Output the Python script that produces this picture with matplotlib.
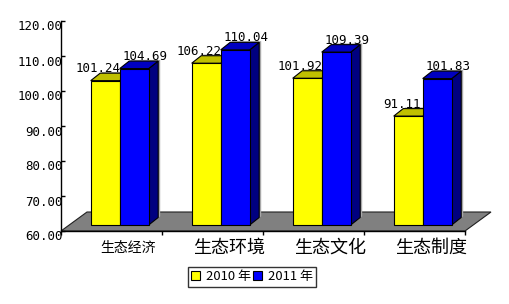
import matplotlib
matplotlib.use("Agg")
import matplotlib.pyplot as plt
from matplotlib.patches import Polygon, Patch
import numpy as np

categories = ["生态经济", "生态环境", "生态文化", "生态制度"]
series_names = ["2010 年", "2011 年"]
values_2010 = [101.24, 106.22, 101.92, 91.11]
values_2011 = [104.69, 110.04, 109.39, 101.83]
yticks = [60, 70, 80, 90, 100, 110, 120]
ytick_labels = ["60.00", "70.00", "80.00", "90.00", "100.00", "110.00", "120.00"]

W, H = 509, 304
fig = plt.figure(figsize=(W / 100, H / 100), dpi=100)
ax = fig.add_axes([61 / W, (H - 231) / H, (465 - 61) / W, (231 - 21) / H])
ax.set_xlim(-0.5, 3.5)
ax.set_ylim(60, 120)
ax.set_facecolor("none")

# data units per pixel
ux = 4.0 / 404
uy = 60.0 / 210

# 3D geometry (pixels)
bar_sx, bar_sy = 8.2, 6.0      # bar set back from front edge
bdx, bdy = 9.5, 7.5            # bar depth
fdx, fdy = 26.0, 19.0          # floor depth
w = 29.0 / 101

lw = 0.8
# floor
floor = Polygon([(-0.5, 60), (3.5, 60), (3.5 + fdx * ux, 60 + fdy * uy),
                 (-0.5 + fdx * ux, 60 + fdy * uy)], closed=True,
                facecolor="#808080", edgecolor="#202020", lw=lw, clip_on=False, zorder=1)
ax.add_patch(floor)

colors = [("#FFFF00", "#C0C000", "#808000"), ("#0000FF", "#0000C0", "#000080")]
series = [values_2010, values_2011]


def bar3d(xc, v, cols, z):
    x0 = xc - w / 2 + bar_sx * ux
    x1 = xc + w / 2 + bar_sx * ux
    b = 60 + bar_sy * uy
    t = v + bar_sy * uy
    ddx, ddy = bdx * ux, bdy * uy
    # shadow
    sh = [(x0, b), (x1, b), (x1 + ddx, b + ddy), (x1 + ddx, t + ddy), (x0 + ddx, t + ddy), (x0, t)]
    sh = [(p[0] + 2 * ux, p[1] + 1.2 * uy) for p in sh]
    ax.add_patch(Polygon(sh, closed=True, facecolor="#A8A8A8", edgecolor="none", clip_on=False, zorder=z))
    side = [(x1, b), (x1 + ddx, b + ddy), (x1 + ddx, t + ddy), (x1, t)]
    top = [(x0, t), (x1, t), (x1 + ddx, t + ddy), (x0 + ddx, t + ddy)]
    front = [(x0, b), (x1, b), (x1, t), (x0, t)]
    for poly, c in ((side, cols[2]), (top, cols[1]), (front, cols[0])):
        ax.add_patch(Polygon(poly, closed=True, facecolor=c, edgecolor="black", lw=lw,
                             clip_on=False, zorder=z + 0.1, joinstyle="miter"))


x = np.arange(len(categories))
for i in range(len(categories)):
    bar3d(x[i] - w / 2, values_2010[i], colors[0], 2 + i)
    bar3d(x[i] + w / 2, values_2011[i], colors[1], 2.5 + i)

num_font = dict(family="DejaVu Sans Mono", fontsize=9)
PT = 0.72
for i in range(len(categories)):
    for k, vals in enumerate(series):
        xc = x[i] + (k - 0.5) * w
        off = -6.7 if k == 0 else 10.5
        ax.annotate(f"{vals[i]:.2f}", (xc, vals[i]),
                    xytext=((bar_sx + off) * PT, (bar_sy + 12) * PT), textcoords="offset points",
                    ha="center", va="center", zorder=20, annotation_clip=False, **num_font)

# axes & ticks
for s in ("top", "right"):
    ax.spines[s].set_visible(False)
ax.spines["left"].set_linewidth(1.0)
ax.spines["bottom"].set_linewidth(1.0)
ax.spines["left"].set_zorder(15)
ax.set_yticks(yticks)
ax.set_yticklabels([])
ax.tick_params(axis="y", direction="in", length=3, width=1)
ax.set_xticks(np.arange(-0.5, 4.0, 1.0))
ax.set_xticklabels([])
ax.tick_params(axis="x", direction="out", length=3, width=1)

for yv, lab in zip(yticks, ytick_labels):
    ax.annotate(lab, (-0.5, yv), xytext=(2 * PT, -6 * PT), textcoords="offset points",
                ha="right", va="center", zorder=1, annotation_clip=False, **num_font)

cjk = ["Noto Sans CJK SC", "DejaVu Sans"]
for i, c in enumerate(categories):
    fs = 10 if i == 0 else 13
    ax.annotate(c, (x[i], 60), xytext=(17 * PT, -17 * PT), textcoords="offset points",
                ha="center", va="center", family=cjk, fontsize=fs, annotation_clip=False)

handles = [Patch(facecolor=colors[0][0], edgecolor="black", lw=0.8),
           Patch(facecolor=colors[1][0], edgecolor="black", lw=0.8)]
leg = fig.legend(handles, series_names, loc="upper left",
                 bbox_to_anchor=(188 / W, (H - 267) / H), bbox_transform=fig.transFigure,
                 ncol=2, frameon=True, fancybox=False, borderpad=0.25, borderaxespad=0,
                 handlelength=0.65, handleheight=0.65, handletextpad=0.45, columnspacing=0.2,
                 prop={"family": cjk, "size": 9.4})
leg.get_frame().set_edgecolor("black")
leg.get_frame().set_linewidth(1.0)

fig.savefig("out.png", dpi=100)
